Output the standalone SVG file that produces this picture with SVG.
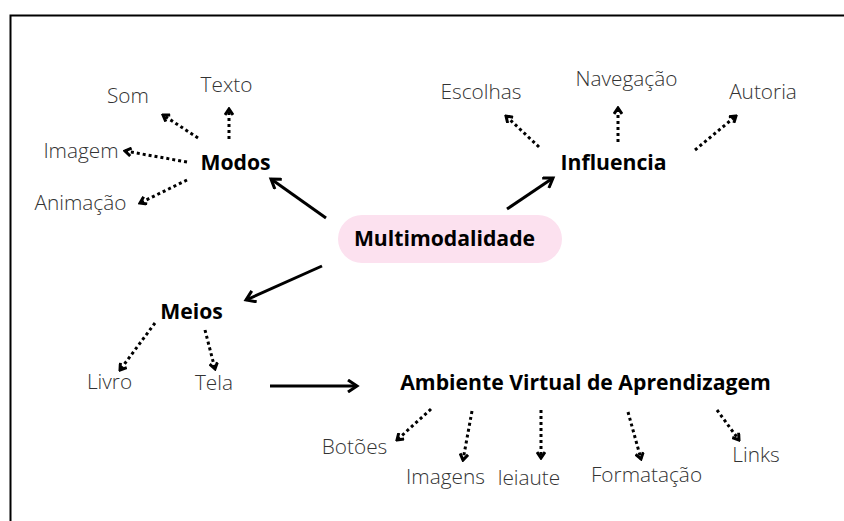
<svg xmlns="http://www.w3.org/2000/svg" width="844" height="521" viewBox="0 0 844 521">
<defs>
<style>
.lbl{font-family:"Open Sans","Liberation Sans",sans-serif;font-weight:300;font-size:20.8px;fill:#333;text-anchor:middle}
.hd{font-family:"Open Sans","Liberation Sans",sans-serif;font-weight:700;font-size:21.2px;fill:#000;text-anchor:middle}
.solid{stroke:#000;stroke-width:3;fill:none;marker-end:url(#ah)}
.dot{stroke:#000;stroke-width:3;fill:none;stroke-dasharray:3 3;marker-end:url(#dh)}
</style>
<marker id="ah" viewBox="0 0 14 14" refX="11" refY="7" markerWidth="14" markerHeight="14" markerUnits="userSpaceOnUse" orient="auto">
<path d="M2,1 L11,7 L2,13" fill="none" stroke="#000" stroke-width="3"/>
</marker>
<marker id="dh" viewBox="0 0 10 10" refX="8" refY="5" markerWidth="10" markerHeight="10" markerUnits="userSpaceOnUse" orient="auto">
<path d="M2,1 L8,5 L2,9" fill="none" stroke="#000" stroke-width="3"/>
</marker>
</defs>
<rect width="844" height="521" fill="#fff"/>
<path d="M10.5,521 L10.5,15.5 L844,15.5" fill="none" stroke="#000" stroke-width="2"/>
<g id="connectors">
<line class="solid" x1="326" y1="218" x2="271" y2="179"/>
<line class="solid" x1="507" y1="209" x2="553" y2="178"/>
<line class="solid" x1="322" y1="266" x2="246" y2="300"/>
<line class="solid" x1="270" y1="386" x2="357" y2="386"/>
<line class="dot" x1="229" y1="139" x2="229" y2="109"/>
<line class="dot" x1="198" y1="138" x2="163" y2="115"/>
<line class="dot" x1="187" y1="162" x2="125" y2="151"/>
<line class="dot" x1="187" y1="180" x2="140" y2="203"/>
<line class="dot" x1="539" y1="147" x2="506" y2="116"/>
<line class="dot" x1="618" y1="142" x2="618" y2="108"/>
<line class="dot" x1="695" y1="150" x2="736" y2="116"/>
<line class="dot" x1="155" y1="323" x2="120" y2="370"/>
<line class="dot" x1="205" y1="330" x2="215" y2="369"/>
<line class="dot" x1="431" y1="409" x2="397" y2="440"/>
<line class="dot" x1="472" y1="411" x2="463" y2="460"/>
<line class="dot" x1="541" y1="410" x2="541" y2="458"/>
<line class="dot" x1="628" y1="412" x2="641" y2="459"/>
<line class="dot" x1="717" y1="410" x2="739" y2="440"/>
</g>
<g id="multimodalidade">
<rect x="338" y="215" width="224" height="48" rx="24" fill="#fce1ef"/>
<text class="hd" x="444.5" y="246">Multimodalidade</text>
</g>
<g id="modos"><text class="hd" x="235.5" y="170">Modos</text></g>
<g id="influencia"><text class="hd" x="613.5" y="170">Influencia</text></g>
<g id="meios"><text class="hd" x="191.5" y="319">Meios</text></g>
<g id="ava"><text class="hd" x="585.5" y="390">Ambiente Virtual de Aprendizagem</text></g>
<g id="texto"><text class="lbl" x="226.5" y="92">Texto</text></g>
<g id="som"><text class="lbl" x="128" y="103">Som</text></g>
<g id="imagem"><text class="lbl" x="81" y="158">Imagem</text></g>
<g id="animacao"><text class="lbl" x="80.5" y="210">Animação</text></g>
<g id="escolhas"><text class="lbl" x="481" y="99">Escolhas</text></g>
<g id="navegacao"><text class="lbl" x="626.5" y="86">Navegação</text></g>
<g id="autoria"><text class="lbl" x="763" y="99">Autoria</text></g>
<g id="livro"><text class="lbl" x="109.5" y="389">Livro</text></g>
<g id="tela"><text class="lbl" x="214" y="390">Tela</text></g>
<g id="botoes"><text class="lbl" x="354.5" y="454">Botões</text></g>
<g id="imagens"><text class="lbl" x="445.5" y="484">Imagens</text></g>
<g id="leiaute"><text class="lbl" x="529" y="485">leiaute</text></g>
<g id="formatacao"><text class="lbl" x="646.5" y="482">Formatação</text></g>
<g id="links"><text class="lbl" x="756" y="462">Links</text></g>
</svg>
